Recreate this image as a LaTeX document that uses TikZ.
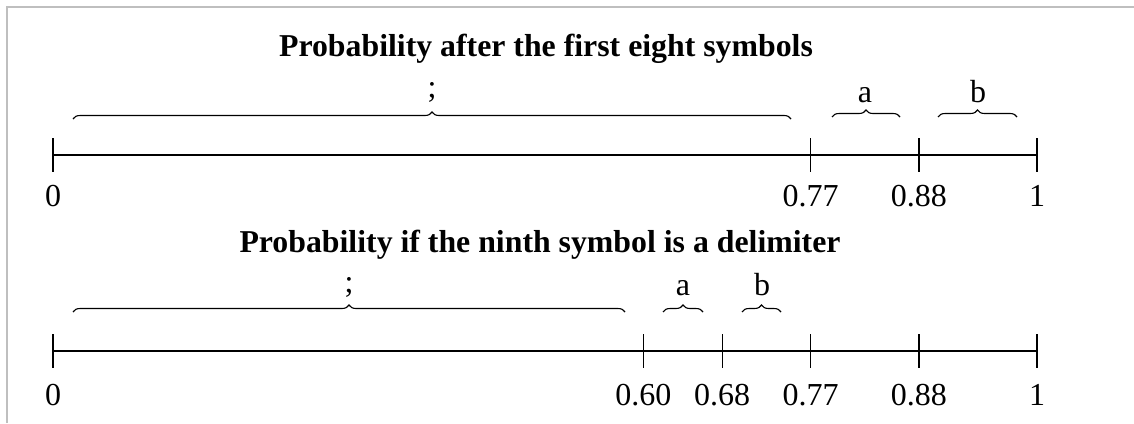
\documentclass[tikz,border=0pt]{standalone}
\usepackage{fontspec}
\setmainfont{Liberation Serif}
\usetikzlibrary{decorations.pathreplacing}

\begin{document}
\begin{tikzpicture}[x=0.5pt, y=-0.5pt, font=\fontsize{16}{19}\selectfont,
        axisline/.style={line width=0.6pt},
        ticmark/.style={line width=0.6pt},
        ticklabel/.style={anchor=base, inner sep=0pt},
        ttl/.style={font=\fontsize{15.9}{19}\selectfont\bfseries,
                    anchor=base, inner sep=0pt},
        brc/.style={decorate, decoration={brace, amplitude=3.5pt},
                    line width=0.55pt},
        brclabel/.style={anchor=base, inner sep=0pt}]
      \useasboundingbox (0,0) rectangle (1134,423);
      \draw[gray!50, line width=0.7pt] (7,423) -- (7,7) -- (1134,7);

      % first eight symbols
      \node[ttl] (title1) at (546,56) {Probability after the first eight symbols};
      \coordinate (upL) at (53,155);
      \coordinate (upR) at (1037,155);
      \draw[axisline] (upL) -- (upR);
      \foreach \p/\lbl/\nm in {0/0/u0, 0.77/0.77/u77, 0.88/0.88/u88, 1/1/u100} {
        \draw[ticmark] ({53+984*\p},138) -- ({53+984*\p},172);
        \node[ticklabel] (\nm) at ({53+984*\p},206) {\lbl};
      }
      \coordinate (usemiA) at (73,119);  \coordinate (usemiB) at (791,119);
      \coordinate (uaA) at (832,117);    \coordinate (uaB) at (900,117);
      \coordinate (ubA) at (938,117);    \coordinate (ubB) at (1017,117);
      \draw[brc] (usemiA) -- (usemiB);
      \draw[brc] (uaA) -- (uaB);
      \draw[brc] (ubA) -- (ubB);
      \node[brclabel] (usemi) at (432,97) {;};
      \node[brclabel] (ua) at (865,102) {a};
      \node[brclabel] (ub) at (978,102) {b};

      % ninth symbol is a delimiter
      \node[ttl] (title2) at (540,252) {Probability if the ninth symbol is a delimiter};
      \coordinate (loL) at (53,351);
      \coordinate (loR) at (1037,351);
      \draw[axisline] (loL) -- (loR);
      \foreach \p/\lbl/\nm in {0/0/l0, 0.60/0.60/l60, 0.68/0.68/l68,
                              0.77/0.77/l77, 0.88/0.88/l88, 1/1/l100} {
        \draw[ticmark] ({53+984*\p},334) -- ({53+984*\p},368);
        \node[ticklabel] (\nm) at ({53+984*\p},405) {\lbl};
      }
      \coordinate (lsemiA) at (73,312);  \coordinate (lsemiB) at (625,312);
      \coordinate (laA) at (663,312);    \coordinate (laB) at (703,312);
      \coordinate (lbA) at (742,312);    \coordinate (lbB) at (781,312);
      \draw[brc] (lsemiA) -- (lsemiB);
      \draw[brc] (laA) -- (laB);
      \draw[brc] (lbA) -- (lbB);
      \node[brclabel] (lsemi) at (349,292) {;};
      \node[brclabel] (la) at (683,295) {a};
      \node[brclabel] (lb) at (762,295) {b};
    \end{tikzpicture}
\end{document}
